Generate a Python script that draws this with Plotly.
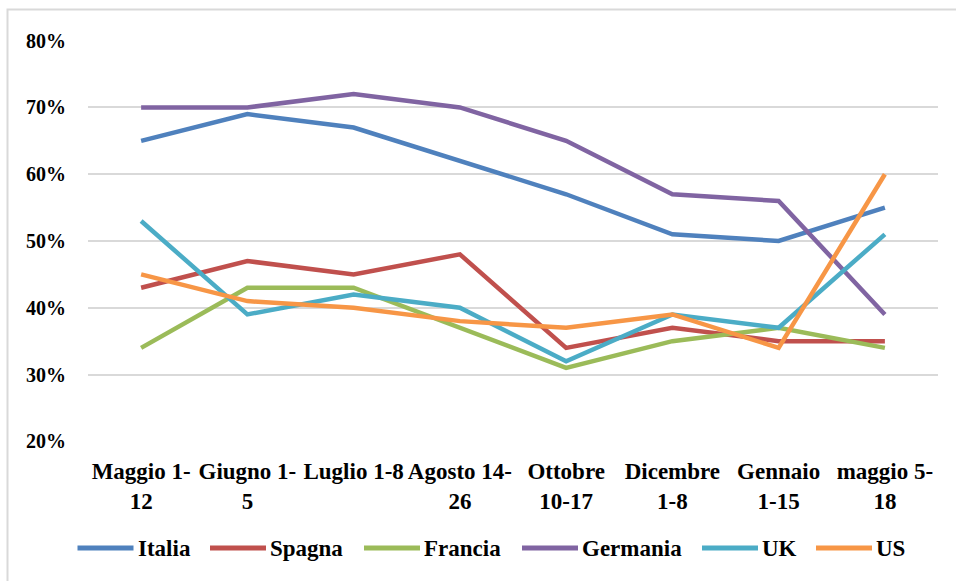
import plotly.graph_objects as go

categories = ["Maggio 1-12", "Giugno 1-5", "Luglio 1-8", "Agosto 14-26",
              "Ottobre 10-17", "Dicembre 1-8", "Gennaio 1-15", "maggio 5-18"]
tick_labels = ["Maggio 1-<br>12", "Giugno 1-<br>5", "Luglio 1-8", "Agosto 14-<br>26",
               "Ottobre<br>10-17", "Dicembre<br>1-8", "Gennaio<br>1-15", "maggio 5-<br>18"]

italia = [0.65, 0.69, 0.67, 0.62, 0.57, 0.51, 0.50, 0.55]
spagna = [0.43, 0.47, 0.45, 0.48, 0.34, 0.37, 0.35, 0.35]
francia = [0.34, 0.43, 0.43, 0.37, 0.31, 0.35, 0.37, 0.34]
germania = [0.70, 0.70, 0.72, 0.70, 0.65, 0.57, 0.56, 0.39]
uk = [0.53, 0.39, 0.42, 0.40, 0.32, 0.39, 0.37, 0.51]
us = [0.45, 0.41, 0.40, 0.38, 0.37, 0.39, 0.34, 0.60]

y_ticks = [0.2, 0.3, 0.4, 0.5, 0.6, 0.7, 0.8]
y_tick_labels = ["20%", "30%", "40%", "50%", "60%", "70%", "80%"]

series_names = ["Italia", "Spagna", "Francia", "Germania", "UK", "US"]
series_values = [italia, spagna, francia, germania, uk, us]
series_colors = ["#4F81BD", "#C0504D", "#9BBB59", "#8064A2", "#4BACC6", "#F79646"]

FONT = "Liberation Serif"

# plot-area geometry (pixels)
PL, PR, PT, PB = 88, 938, 40, 442
W, H = 956, 581


def px_x(px):
    return (px - PL) / (PR - PL)


def px_y(py):
    return (PB - py) / (PB - PT)


fig = go.Figure()
for name, vals, color in zip(series_names, series_values, series_colors):
    fig.add_trace(go.Scatter(
        x=categories, y=vals, name=name, mode="lines",
        line=dict(color=color, width=4.5), showlegend=False,
    ))

# custom legend (long line samples as in the original)
legend_line_x = [77.5, 210, 364, 522, 702, 816]
legend_line_len = 56
legend_y = 548
shapes = [dict(
    type="rect", xref="paper", yref="paper",
    x0=px_x(7.5), x1=px_x(970), y0=px_y(590), y1=px_y(9.5),
    line=dict(color="#D9D9D9", width=2), fillcolor="rgba(0,0,0,0)", layer="below",
)]
annotations = []
for name, color, lx in zip(series_names, series_colors, legend_line_x):
    shapes.append(dict(
        type="line", xref="paper", yref="paper",
        x0=px_x(lx), x1=px_x(lx + legend_line_len), y0=px_y(legend_y), y1=px_y(legend_y),
        line=dict(color=color, width=5),
    ))
    annotations.append(dict(
        xref="paper", yref="paper", x=px_x(lx + legend_line_len + 2), y=px_y(legend_y),
        xanchor="left", yanchor="middle", text=name, showarrow=False,
        font=dict(family=FONT, size=23, weight="bold", color="black"),
    ))

fig.update_layout(
    width=W, height=H,
    margin=dict(l=PL, r=W - PR, t=PT, b=H - PB),
    paper_bgcolor="white", plot_bgcolor="white",
    font=dict(family=FONT),
    showlegend=False,
    xaxis=dict(
        type="category", tickmode="array", tickvals=categories, ticktext=tick_labels,
        range=[-0.5, 7.5], showgrid=False, showline=False, zeroline=False,
        ticks="outside", ticklen=8, tickcolor="rgba(0,0,0,0)",
        tickfont=dict(family=FONT, size=23, weight="bold", color="black"),
        tickangle=0,
    ),
    yaxis=dict(
        range=[0.199, 0.801], tickmode="array", tickvals=y_ticks, ticktext=y_tick_labels,
        showgrid=True, gridcolor="#D9D9D9", gridwidth=1.5, zeroline=False, showline=False,
        ticks="outside", ticklen=17, tickcolor="rgba(0,0,0,0)",
        tickfont=dict(family=FONT, size=20, weight="bold", color="black"),
    ),
    shapes=shapes,
    annotations=annotations,
)

fig.write_html("out.html", config={"displayModeBar": False},
               post_script="document.body.style.margin='0';document.body.style.overflow='hidden';")
